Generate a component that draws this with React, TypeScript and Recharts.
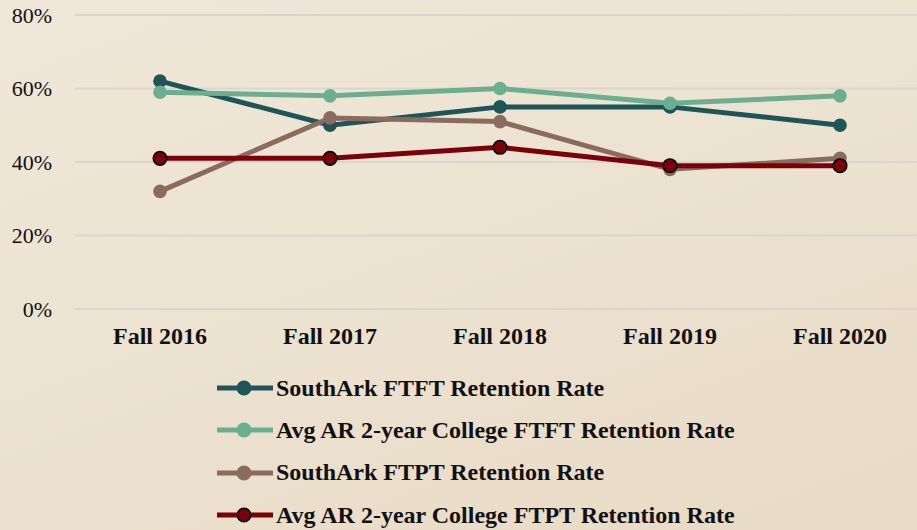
import { CartesianGrid, Legend, Line, LineChart, XAxis, YAxis } from "recharts";

const terms = ["Fall 2016", "Fall 2017", "Fall 2018", "Fall 2019", "Fall 2020"];
const southArkFtft = [62, 50, 55, 55, 50];
const avgFtft = [59, 58, 60, 56, 58];
const southArkFtpt = [32, 52, 51, 38, 41];
const avgFtpt = [41, 41, 44, 39, 39];
const yTicks = [0, 20, 40, 60, 80];

const series = [
  { key: "saFtft", name: "SouthArk FTFT Retention Rate", color: "#1E5558", values: southArkFtft, outline: false },
  { key: "avgFtft", name: "Avg AR 2-year College FTFT Retention Rate", color: "#6BAF90", values: avgFtft, outline: false },
  { key: "saFtpt", name: "SouthArk FTPT Retention Rate", color: "#8A6B5D", values: southArkFtpt, outline: false },
  { key: "avgFtpt", name: "Avg AR 2-year College FTPT Retention Rate", color: "#7A0009", values: avgFtpt, outline: true },
];

const data = terms.map((term, i) => {
  const row: Record<string, string | number> = { term };
  series.forEach((s) => (row[s.key] = s.values[i]));
  return row;
});

const font = '"Liberation Serif", "Times New Roman", serif';

function LegendRows() {
  return (
    <div style={{ fontFamily: font, fontWeight: 700, fontSize: 24, color: "#111", whiteSpace: "nowrap" }}>
      {series.map((s) => (
        <div key={s.key} style={{ display: "flex", alignItems: "center", height: 42.3 }}>
          <svg width={56} height={16} style={{ marginRight: 3 }}>
            <line x1={0} y1={8} x2={56} y2={8} stroke={s.color} strokeWidth={5} strokeLinecap="round" />
            <circle cx={27} cy={8} r={6.8} fill={s.color} stroke={s.outline ? "#000" : s.color} strokeWidth={1.5} />
          </svg>
          <span>{s.name}</span>
        </div>
      ))}
    </div>
  );
}

export default function App() {
  return (
    <div
      style={{
        position: "absolute",
        left: 0,
        top: 0,
        width: 917,
        height: 530,
        overflow: "hidden",
        background: "linear-gradient(160deg, #EFE7D8 0%, #ECE2D0 50%, #E8DBC5 100%)",
      }}
    >
      <LineChart width={925} height={530} data={data} margin={{ top: 15, right: 0, left: 0, bottom: 181 }}>
        <CartesianGrid vertical={false} stroke="#D9D5D2" strokeWidth={2} />
        <XAxis
          dataKey="term"
          axisLine={false}
          tickLine={false}
          tickSize={0}
          tickMargin={18}
          height={40}
          interval={0}
          padding={{ left: 85, right: 85 }}
          tick={{ fontFamily: font, fontWeight: 700, fontSize: 24, fill: "#111" }}
        />
        <YAxis
          domain={[0, 80]}
          ticks={yTicks}
          width={75}
          axisLine={false}
          tickLine={false}
          tickSize={0}
          tickMargin={23}
          tickFormatter={(v) => `${v}%`}
          tick={{ fontFamily: font, fontSize: 22, fill: "#111" }}
        />
        {series.map((s) => (
          <Line
            key={s.key}
            dataKey={s.key}
            name={s.name}
            type="linear"
            stroke={s.color}
            strokeWidth={5}
            dot={{ r: 6.8, fill: s.color, stroke: s.outline ? "#000" : s.color, strokeWidth: s.outline ? 1.5 : 0 }}
            activeDot={false}
            isAnimationActive={false}
          />
        ))}
        <Legend
          layout="vertical"
          align="center"
          verticalAlign="middle"
          content={() => <LegendRows />}
          wrapperStyle={{ top: 367, left: 217, width: 640 }}
        />
      </LineChart>
    </div>
  );
}
